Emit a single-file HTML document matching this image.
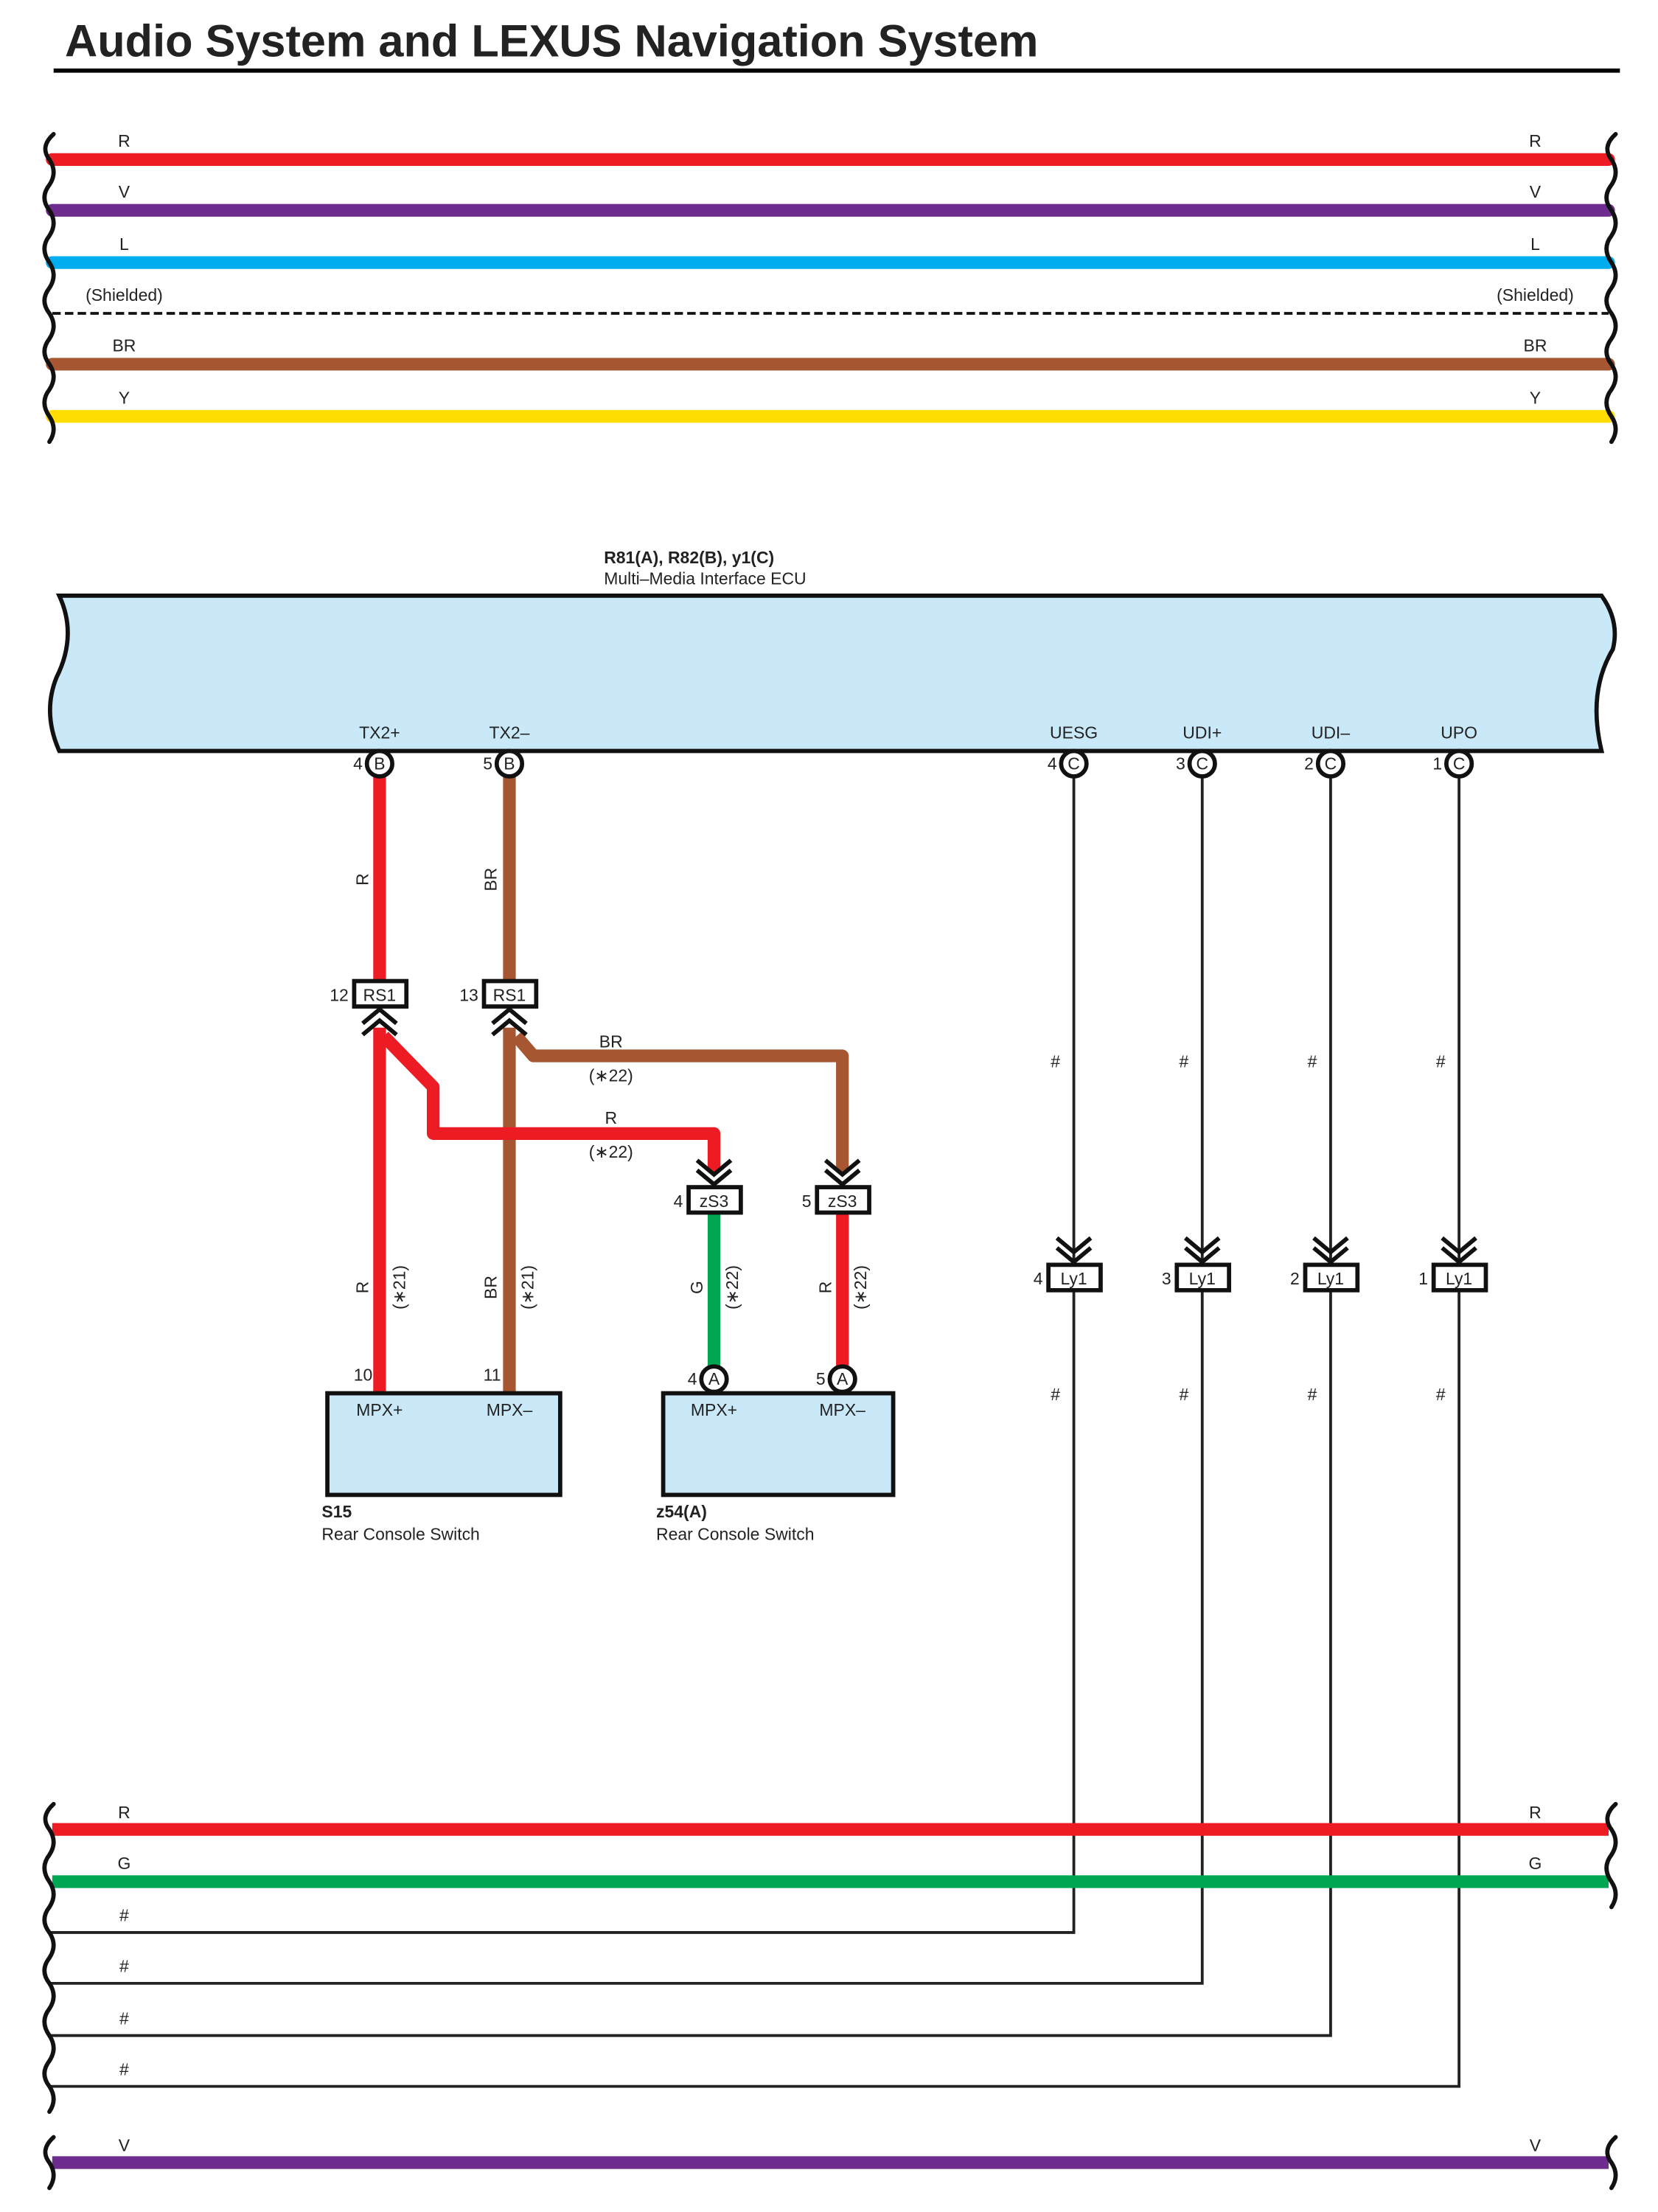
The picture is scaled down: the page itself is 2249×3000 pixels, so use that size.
<!DOCTYPE html>
<html><head><meta charset="utf-8"><style>
html,body{margin:0;padding:0;background:#fff}
svg{display:block}
text{font-family:"Liberation Sans",sans-serif;fill:#222}
</style></head><body>
<svg width="2249" height="3000" viewBox="0 0 1175 1567" preserveAspectRatio="none" xmlns="http://www.w3.org/2000/svg">
<text x="46" y="40" font-size="32" font-weight="bold" fill="#000">Audio System and LEXUS Navigation System</text>
<line x1="38" y1="50" x2="1148" y2="50" stroke="#000" stroke-width="3"/>

<!-- top wires -->
<g stroke-width="9" stroke-linecap="round">
<line x1="37" y1="113" x2="1140" y2="113" stroke="#ed1c24"/>
<line x1="37" y1="149" x2="1140" y2="149" stroke="#6e2c8e"/>
<line x1="37" y1="186" x2="1140" y2="186" stroke="#00aeef"/>
<line x1="37" y1="258" x2="1140" y2="258" stroke="#a65631"/>
<line x1="37" y1="295" x2="1140" y2="295" stroke="#ffdd00"/>
</g>
<line x1="37" y1="222" x2="1140" y2="222" stroke="#111" stroke-width="2" stroke-dasharray="6,3"/>
<g font-size="12" text-anchor="middle">
<text x="88" y="104">R</text><text x="1088" y="104">R</text>
<text x="88" y="140">V</text><text x="1088" y="140">V</text>
<text x="88" y="177">L</text><text x="1088" y="177">L</text>
<text x="88" y="213">(Shielded)</text><text x="1088" y="213">(Shielded)</text>
<text x="88" y="249">BR</text><text x="1088" y="249">BR</text>
<text x="88" y="286">Y</text><text x="1088" y="286">Y</text>
</g>
<g fill="none" stroke="#111" stroke-width="3" stroke-linecap="round">
<path d="M38,95 Q28,104 35,113 Q41,122 35,131 Q28,140 35,149 Q41,158 35,167 Q28,176 35,186 Q41,195 35,204 Q28,213 35,222 Q41,231 35,240 Q28,249 35,258 Q41,267 35,276 Q28,285 35,295 Q41,304 35,313"/>
<path d="M1145,95 Q1135,104 1142,113 Q1148,122 1142,131 Q1135,140 1142,149 Q1148,158 1142,167 Q1135,176 1142,186 Q1148,195 1142,204 Q1135,213 1142,222 Q1148,231 1142,240 Q1135,249 1142,258 Q1148,267 1142,276 Q1135,285 1142,295 Q1148,304 1142,313"/>
</g>

<!-- ECU -->
<text x="428" y="399" font-size="12" font-weight="bold">R81(A), R82(B), y1(C)</text>
<text x="428" y="414" font-size="12">Multi–Media Interface ECU</text>
<path d="M42,422 L1135,422 Q1148,440 1143,460 Q1125,490 1135,532 L42,532 Q30,505 40,480 Q55,450 42,422 Z" fill="#c9e8f8" stroke="#111" stroke-width="3"/>
<g font-size="12" text-anchor="middle">
<text x="269" y="523">TX2+</text><text x="361" y="523">TX2–</text>
<text x="761" y="523">UESG</text><text x="852" y="523">UDI+</text>
<text x="943" y="523">UDI–</text><text x="1034" y="523">UPO</text>
</g>

<!-- thin lines -->
<g fill="none" stroke="#222" stroke-width="2">
<polyline points="761,550 761,1369 35,1369"/>
<polyline points="852,550 852,1405 35,1405"/>
<polyline points="943,550 943,1442 35,1442"/>
<polyline points="1034,550 1034,1478 35,1478"/>
</g>

<!-- colored harness -->
<g fill="none" stroke-width="9" stroke-linejoin="round">
<line x1="269" y1="550" x2="269" y2="695" stroke="#ed1c24"/>
<line x1="361" y1="550" x2="361" y2="695" stroke="#a65631"/>
<polyline points="366,734 378,748 597,748 597,830" stroke="#a65631"/>
<line x1="361" y1="728" x2="361" y2="987" stroke="#a65631"/>
<line x1="269" y1="728" x2="269" y2="987" stroke="#ed1c24"/>
<polyline points="272,734 307,770 307,803 506,803 506,830" stroke="#ed1c24"/>
<line x1="506" y1="859" x2="506" y2="968" stroke="#00a651"/>
<line x1="597" y1="859" x2="597" y2="968" stroke="#ed1c24"/>
</g>

<!-- circles -->
<g stroke="#111" stroke-width="3" fill="#fff">
<circle cx="269" cy="541" r="9"/><circle cx="361" cy="541" r="9"/>
<circle cx="761" cy="541" r="9"/><circle cx="852" cy="541" r="9"/>
<circle cx="943" cy="541" r="9"/><circle cx="1034" cy="541" r="9"/>
<circle cx="506" cy="977" r="9"/><circle cx="597" cy="977" r="9"/>
</g>
<g font-size="12" text-anchor="middle">
<text x="269" y="545">B</text><text x="361" y="545">B</text>
<text x="761" y="545">C</text><text x="852" y="545">C</text>
<text x="943" y="545">C</text><text x="1034" y="545">C</text>
<text x="506" y="981">A</text><text x="597" y="981">A</text>
</g>
<g font-size="12" text-anchor="end">
<text x="257" y="545">4</text><text x="349" y="545">5</text>
<text x="749" y="545">4</text><text x="840" y="545">3</text>
<text x="931" y="545">2</text><text x="1022" y="545">1</text>
<text x="494" y="981">4</text><text x="585" y="981">5</text>
</g>

<!-- connector boxes -->
<g stroke="#111" stroke-width="3" fill="#fff">
<rect x="251" y="695" width="37" height="18"/><rect x="343" y="695" width="37" height="18"/>
<rect x="488" y="841" width="37" height="18"/><rect x="579" y="841" width="37" height="18"/>
<rect x="743" y="896" width="37" height="18"/><rect x="834" y="896" width="37" height="18"/>
<rect x="925" y="896" width="37" height="18"/><rect x="1016" y="896" width="37" height="18"/>
</g>
<g font-size="12" text-anchor="middle">
<text x="269" y="709">RS1</text><text x="361" y="709">RS1</text>
<text x="506" y="855">zS3</text><text x="597" y="855">zS3</text>
<text x="761" y="910">Ly1</text><text x="852" y="910">Ly1</text>
<text x="943" y="910">Ly1</text><text x="1034" y="910">Ly1</text>
</g>
<g font-size="12" text-anchor="end">
<text x="247" y="709">12</text><text x="339" y="709">13</text>
<text x="484" y="855">4</text><text x="575" y="855">5</text>
<text x="739" y="910">4</text><text x="830" y="910">3</text>
<text x="921" y="910">2</text><text x="1012" y="910">1</text>
</g>

<!-- chevrons -->
<g fill="none" stroke="#111" stroke-width="3">
<polyline points="257,725 269,715 281,725"/><polyline points="257,733 269,723 281,733"/>
<polyline points="349,725 361,715 373,725"/><polyline points="349,733 361,723 373,733"/>
<polyline points="494,822 506,832 518,822"/><polyline points="494,829 506,839 518,829"/>
<polyline points="585,822 597,832 609,822"/><polyline points="585,829 597,839 609,829"/>
<polyline points="749,877 761,887 773,877"/><polyline points="749,884 761,894 773,884"/>
<polyline points="840,877 852,887 864,877"/><polyline points="840,884 852,894 864,884"/>
<polyline points="931,877 943,887 955,877"/><polyline points="931,884 943,894 955,884"/>
<polyline points="1022,877 1034,887 1046,877"/><polyline points="1022,884 1034,894 1046,884"/>
</g>

<!-- wire labels -->
<g font-size="12" text-anchor="middle">
<text transform="translate(261,623) rotate(-90)">R</text>
<text transform="translate(352,623) rotate(-90)">BR</text>
<text transform="translate(261,912) rotate(-90)">R</text>
<text transform="translate(287,912) rotate(-90)">(∗21)</text>
<text transform="translate(352,912) rotate(-90)">BR</text>
<text transform="translate(378,912) rotate(-90)">(∗21)</text>
<text transform="translate(498,912) rotate(-90)">G</text>
<text transform="translate(523,912) rotate(-90)">(∗22)</text>
<text transform="translate(589,912) rotate(-90)">R</text>
<text transform="translate(614,912) rotate(-90)">(∗22)</text>
<text x="433" y="742">BR</text><text x="433" y="766">(∗22)</text>
<text x="433" y="796">R</text><text x="433" y="820">(∗22)</text>
<text x="748" y="756">#</text><text x="839" y="756">#</text><text x="930" y="756">#</text><text x="1021" y="756">#</text>
<text x="748" y="992">#</text><text x="839" y="992">#</text><text x="930" y="992">#</text><text x="1021" y="992">#</text>
</g>
<g font-size="12" text-anchor="end">
<text x="264" y="978">10</text><text x="355" y="978">11</text>
</g>

<!-- switch boxes -->
<rect x="232" y="987" width="165" height="72" fill="#c9e8f8" stroke="#111" stroke-width="3"/>
<rect x="470" y="987" width="163" height="72" fill="#c9e8f8" stroke="#111" stroke-width="3"/>
<g font-size="12" text-anchor="middle">
<text x="269" y="1003">MPX+</text><text x="361" y="1003">MPX–</text>
<text x="506" y="1003">MPX+</text><text x="597" y="1003">MPX–</text>
</g>
<text x="228" y="1075" font-size="12" font-weight="bold">S15</text>
<text x="228" y="1091" font-size="12">Rear Console Switch</text>
<text x="465" y="1075" font-size="12" font-weight="bold">z54(A)</text>
<text x="465" y="1091" font-size="12">Rear Console Switch</text>

<!-- bottom wires -->
<g stroke-width="9">
<line x1="37" y1="1296" x2="1140" y2="1296" stroke="#ed1c24"/>
<line x1="37" y1="1333" x2="1140" y2="1333" stroke="#00a651"/>
<line x1="37" y1="1532" x2="1140" y2="1532" stroke="#6e2c8e"/>
</g>
<g font-size="12" text-anchor="middle">
<text x="88" y="1288">R</text><text x="1088" y="1288">R</text>
<text x="88" y="1324">G</text><text x="1088" y="1324">G</text>
<text x="88" y="1361">#</text><text x="88" y="1397">#</text>
<text x="88" y="1434">#</text><text x="88" y="1470">#</text>
<text x="88" y="1524">V</text><text x="1088" y="1524">V</text>
</g>
<g fill="none" stroke="#111" stroke-width="3" stroke-linecap="round">
<path d="M38,1278 Q28,1287 35,1296 Q41,1305 35,1314 Q28,1323 35,1333 Q41,1342 35,1351 Q28,1360 35,1369 Q41,1378 35,1387 Q28,1396 35,1405 Q41,1414 35,1423 Q28,1432 35,1442 Q41,1451 35,1460 Q28,1469 35,1478 Q41,1487 35,1496"/>
<path d="M38,1514 Q28,1523 35,1532 Q41,1541 35,1550"/>
<path d="M1145,1278 Q1135,1287 1142,1296 Q1148,1305 1142,1314 Q1135,1323 1142,1333 Q1148,1342 1142,1351"/>
<path d="M1145,1514 Q1135,1523 1142,1532 Q1148,1541 1142,1550"/>
</g>
</svg>
</body></html>
